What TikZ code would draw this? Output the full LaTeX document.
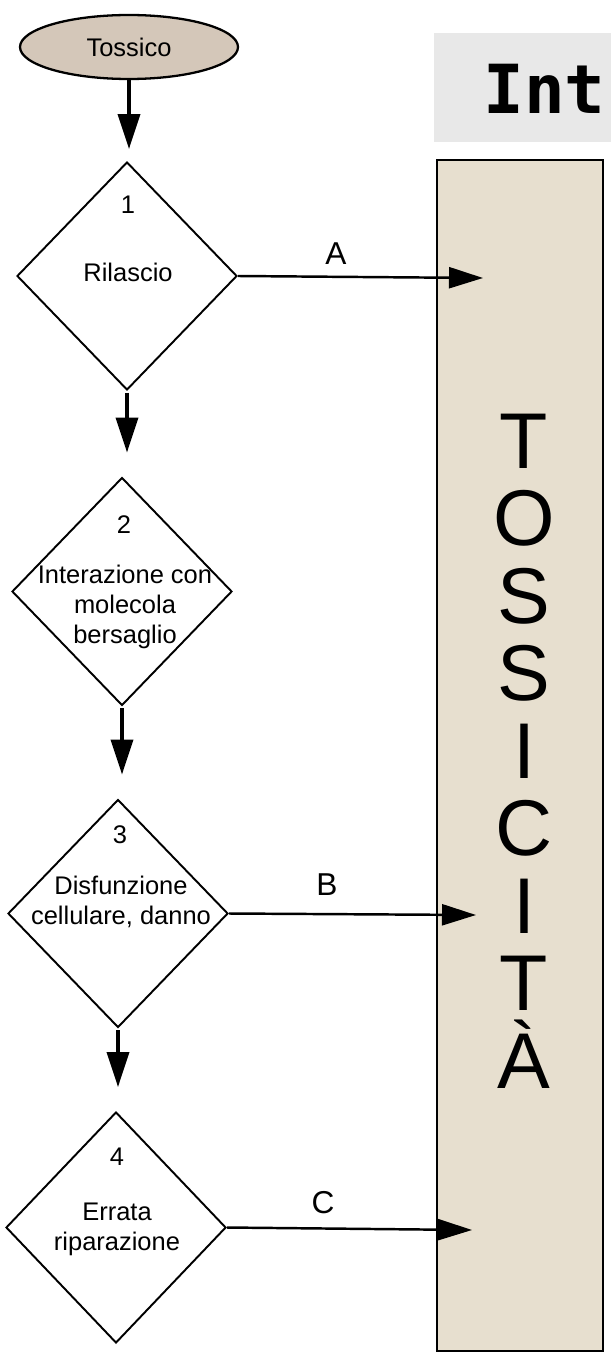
\documentclass[tikz,border=0pt]{standalone}
\usepackage{fontspec}
\setmainfont{Liberation Sans}
\newfontfamily\monobold{DejaVu Sans Mono}
\usetikzlibrary{shapes.geometric,arrows.meta}

\definecolor{tan}{RGB}{231,223,207}
\definecolor{tandark}{RGB}{212,199,185}
\definecolor{titlegray}{RGB}{232,232,232}

\begin{document}
\begin{tikzpicture}[
		dia/.style={draw, diamond, minimum width=4.4cm, minimum height=4.56cm, inner sep=0pt, line width=1.1pt},
		txt/.style={align=center, inner sep=0pt, font=\fontsize{14.5}{17}\selectfont},
		lab/.style={inner sep=0pt, font=\fontsize{18}{20}\selectfont},
		down/.style={-{Triangle[length=0.7cm,width=0.44cm]}, line width=2pt},
		side/.style={-{Triangle[length=0.68cm,width=0.42cm]}, line width=1.4pt},
		big/.style={anchor=base, inner sep=0pt, font=\fontsize{45}{50}\selectfont}]
		\useasboundingbox (0,0) rectangle (12.22,-27.08);
		
		% Title
		\fill[titlegray] (8.68,-0.66) rectangle (12.22,-2.84);
		\node[anchor=base west, inner sep=0pt, font=\monobold\bfseries\fontsize{38.5}{42}\selectfont] (title) at (9.66,-2.28) {Int};
		
		% Toxicity box
		\node[draw, line width=1.2pt, fill=tan, minimum width=3.32cm, minimum height=23.82cm, inner sep=0pt] (tox) at (10.4,-15.11) {};
		\foreach \l [count=\k from 0] in {T,O,S,S,I,C,I,T,À}
			\node[big] (L\k) at (10.48,{-9.36-1.55*\k}) {\l};
		
		% Toxic agent
		\node[draw, ellipse, line width=1.3pt, fill=tandark, minimum width=4.36cm, minimum height=1.28cm, font=\fontsize{14.5}{17}\selectfont] (e) at (2.58,-0.94) {Tossico};
		
		% Steps
		\node[dia] (d1) at (2.54,-5.52) {};
		\node[dia] (d2) at (2.44,-11.83) {};
		\node[dia] (d3) at (2.36,-18.27) {};
		\node[dia, minimum height=4.62cm] (d4) at (2.32,-24.55) {};
		
		\node[txt] (n1) at (2.56,-4.1) {1};
		\node[txt] (t1) at (2.56,-5.44) {Rilascio};
		\node[txt] (n2) at (2.48,-10.5) {2};
		\node[txt] (t2) at (2.5,-12.14) {Interazione con\\molecola\\bersaglio};
		\node[txt] (n3) at (2.4,-16.7) {3};
		\node[txt] (t3) at (2.42,-18.03) {Disfunzione\\cellulare, danno};
		\node[txt] (n4) at (2.34,-23.14) {4};
		\node[txt] (t4) at (2.34,-24.58) {Errata\\riparazione};
		
		% Flow
		\draw[down, shorten >=0.24cm] (e.south) -- (e.south |- d1.north);
		\draw[down, shorten >=0.48cm, shorten <=0.04cm] (d1.south) -- (d1.south |- d2.north);
		\draw[down, shorten >=0.48cm, shorten <=0.04cm] (d2.south) -- (d2.south |- d3.north);
		\draw[down, shorten >=0.48cm, shorten <=0.04cm] (d3.south) -- (d3.south |- d4.north);
		
		% Outcomes
		\coordinate (ca) at (9.66,-5.56);
		\coordinate (cb) at (9.52,-18.3);
		\coordinate (cc) at (9.44,-24.6);
		\draw[side] (d1.east) -- (ca);
		\draw[side] (d3.east) -- (cb);
		\draw[side] (d4.east) -- (cc);
		\node[lab] (la) at (6.72,-5.08) {A};
		\node[lab] (lb) at (6.54,-17.7) {B};
		\node[lab] (lc) at (6.46,-24.06) {C};
	\end{tikzpicture}
\end{document}
